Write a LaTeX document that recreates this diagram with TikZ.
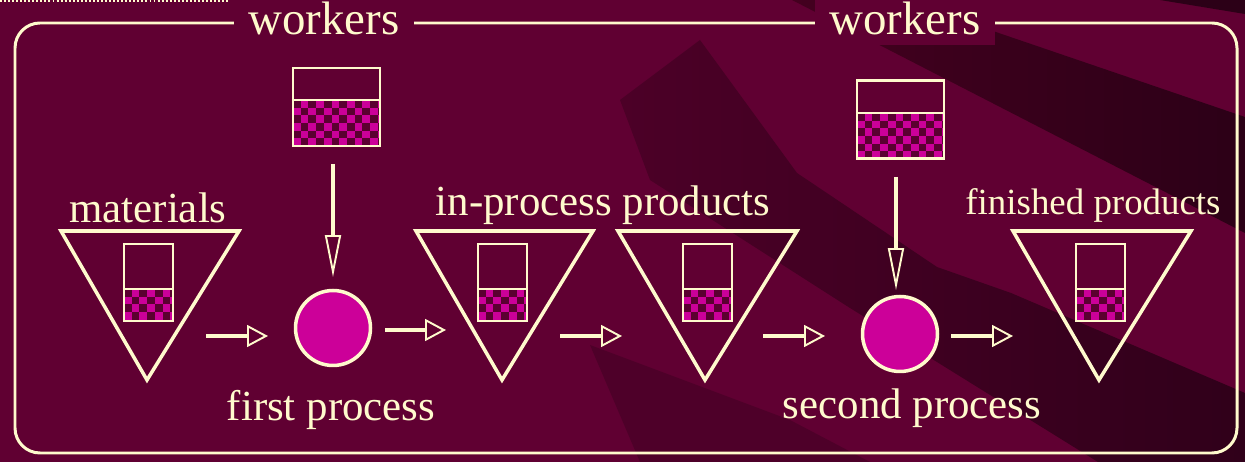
\documentclass[tikz,border=0pt]{standalone}
\usepackage{fontspec}
\setmainfont{Liberation Serif}
\usetikzlibrary{arrows.meta}
\definecolor{bgc}{HTML}{600032}
\definecolor{bandA}{HTML}{2C0017}
\definecolor{bandAl}{HTML}{44001F}
\definecolor{bandB}{HTML}{30001A}
\definecolor{bandBl}{HTML}{4C0027}
\definecolor{bandC}{HTML}{4E0029}
\definecolor{cream}{HTML}{FFFACD}
\definecolor{mag}{HTML}{CC0099}
\definecolor{chkd}{HTML}{5A0030}
\newcommand\chkbox[4]{%
  \begin{scope}
    \clip (#1,#2) rectangle (#3,#4);
    \fill[mag] (#1,#2) rectangle (#3,#4);
    \foreach \i in {0,...,12}{\foreach \j in {0,...,7}{%
      \pgfmathtruncatemacro\chkpar{mod(\i+\j,2)}%
      \ifnum\chkpar=0 \fill[chkd] ({#1+\i*7.7},{#2+\j*7.7}) rectangle ++(7.7,7.7);\fi}}
  \end{scope}}
\begin{document}
\begin{tikzpicture}[x=0.02cm,y=-0.02cm,
  lbl/.style={text=cream, font=\rmfamily\fontsize{24.4pt}{28pt}\selectfont, anchor=base, inner sep=0pt},
  wlbl/.style={fill=bgc, text=cream, font=\rmfamily\fontsize{26.7pt}{30pt}\selectfont, anchor=base,
     text height=19.9pt, text depth=5.7pt, inner ysep=0pt, inner xsep=8pt},
  wbox/.style={draw=cream, line width=1.4pt, inner sep=0pt, minimum width=1.74cm, minimum height=1.56cm},
  ibox/.style={draw=cream, line width=1.2pt, inner sep=0pt, minimum width=0.98cm, minimum height=1.54cm},
  divline/.style={draw=cream, line width=1.2pt},
  tri/.style={draw=cream, line width=2pt, line join=miter},
  proc/.style={circle, draw=cream, fill=mag, line width=2pt, minimum size=1.5cm, inner sep=0pt},
  harrow/.style={draw=cream, line width=2.3pt, -{Triangle[open, length=0.42cm, width=0.44cm, line width=1.1pt]}},
  varrow/.style={draw=cream, line width=1.8pt, -{Triangle[open, length=0.84cm, width=0.32cm, line width=1.1pt]}}
]
% background
\fill[bgc] (0,0) rectangle (1245,462);
\useasboundingbox (0,0) rectangle (1245,462);
\begin{scope}
  \clip (0,0) rectangle (1245,462);
  \fill[bandC] (590,345) -- (790,420) -- (870,462) -- (640,462) -- cycle;
  \shade[left color=bandBl, right color=bandB] (700,40) -- (797,173) -- (937,267) -- (1011,293) -- (1245,393) -- (1245,462)
     -- (1098,462) -- (850,308) -- (650,180) -- (620,100) -- cycle;
  \shade[left color=bandAl, right color=bandA] (792,0) -- (902,0) -- (1245,117) -- (1245,233) -- cycle;
  \fill[bandA] (1160,0) -- (1245,0) -- (1245,14) -- cycle;
\end{scope}
% dotted line at top
\draw[cream, line width=0.9pt, dash pattern=on 1.1pt off 1.2pt] (0,1.2) -- (228,1.2);
% frame
\draw[cream, line width=1.7pt, rounded corners=0.5cm] (15,23) rectangle (1237,453);
\node[wlbl] (wk1) at (324,35) {workers};
\node[wlbl] (wk2) at (905,35) {workers};

% worker boxes
\chkbox{293}{100}{380}{146}
\node[wbox] (wb1) at (336.5,107) {};
\draw[divline] (wb1.west |- 0,100) -- (wb1.east |- 0,100);
\chkbox{857}{113}{944}{159}
\node[wbox] (wb2) at (900.5,119.5) {};
\draw[divline] (wb2.west |- 0,113) -- (wb2.east |- 0,113);

% triangles
\coordinate (t1a) at (61,231); \coordinate (t1b) at (239,231); \coordinate (t1c) at (147,380);
\coordinate (t2a) at (416,231); \coordinate (t2b) at (593,231); \coordinate (t2c) at (502,380);
\coordinate (t3a) at (618,231); \coordinate (t3b) at (797,231); \coordinate (t3c) at (705,380);
\coordinate (t4a) at (1013,231); \coordinate (t4b) at (1191,231); \coordinate (t4c) at (1099,380);
\draw[tri] (t1a) -- (t1b) -- (t1c) -- cycle;
\draw[tri] (t2a) -- (t2b) -- (t2c) -- cycle;
\draw[tri] (t3a) -- (t3b) -- (t3c) -- cycle;
\draw[tri] (t4a) -- (t4b) -- (t4c) -- cycle;

% inner boxes
\chkbox{124}{289}{173}{321}
\node[ibox] (ib1) at (148.5,282.5) {};
\draw[divline] (ib1.west |- 0,289) -- (ib1.east |- 0,289);
\chkbox{478}{289}{527}{321}
\node[ibox] (ib2) at (502.5,282.5) {};
\draw[divline] (ib2.west |- 0,289) -- (ib2.east |- 0,289);
\chkbox{683}{289}{732}{321}
\node[ibox] (ib3) at (707.5,282.5) {};
\draw[divline] (ib3.west |- 0,289) -- (ib3.east |- 0,289);
\chkbox{1076}{289}{1125}{321}
\node[ibox] (ib4) at (1100.5,282.5) {};
\draw[divline] (ib4.west |- 0,289) -- (ib4.east |- 0,289);

% processes
\node[proc] (p1) at (333,328) {};
\node[proc] (p2) at (900,334) {};

% arrows
\coordinate (a1s) at (206,336); \coordinate (a1e) at (268,336);
\coordinate (a2s) at (385,330); \coordinate (a2e) at (446,330);
\coordinate (a3s) at (560,336); \coordinate (a3e) at (622,336);
\coordinate (a4s) at (763,336); \coordinate (a4e) at (825,336);
\coordinate (a5s) at (951,336); \coordinate (a5e) at (1013,336);
\draw[harrow] (a1s) -- (a1e);
\draw[harrow] (a2s) -- (a2e);
\draw[harrow] (a3s) -- (a3e);
\draw[harrow] (a4s) -- (a4e);
\draw[harrow] (a5s) -- (a5e);
\coordinate (v1s) at (333,164); \coordinate (v1e) at (333,277);
\coordinate (v2s) at (896,177); \coordinate (v2e) at (896,290);
\draw[varrow] (v1s) -- (v1e);
\draw[varrow] (v2s) -- (v2e);

% labels
\node[lbl] (lmat) at (148,223) {materials};
\node[lbl] (lfp) at (331,421) {first process};
\node[lbl] (lip) at (603,216) {in-process products};
\node[lbl, font=\rmfamily\fontsize{21pt}{25pt}\selectfont] (lfin) at (1093,215) {finished products};
\node[lbl] (lsp) at (912,419) {second process};
\end{tikzpicture}
\end{document}
